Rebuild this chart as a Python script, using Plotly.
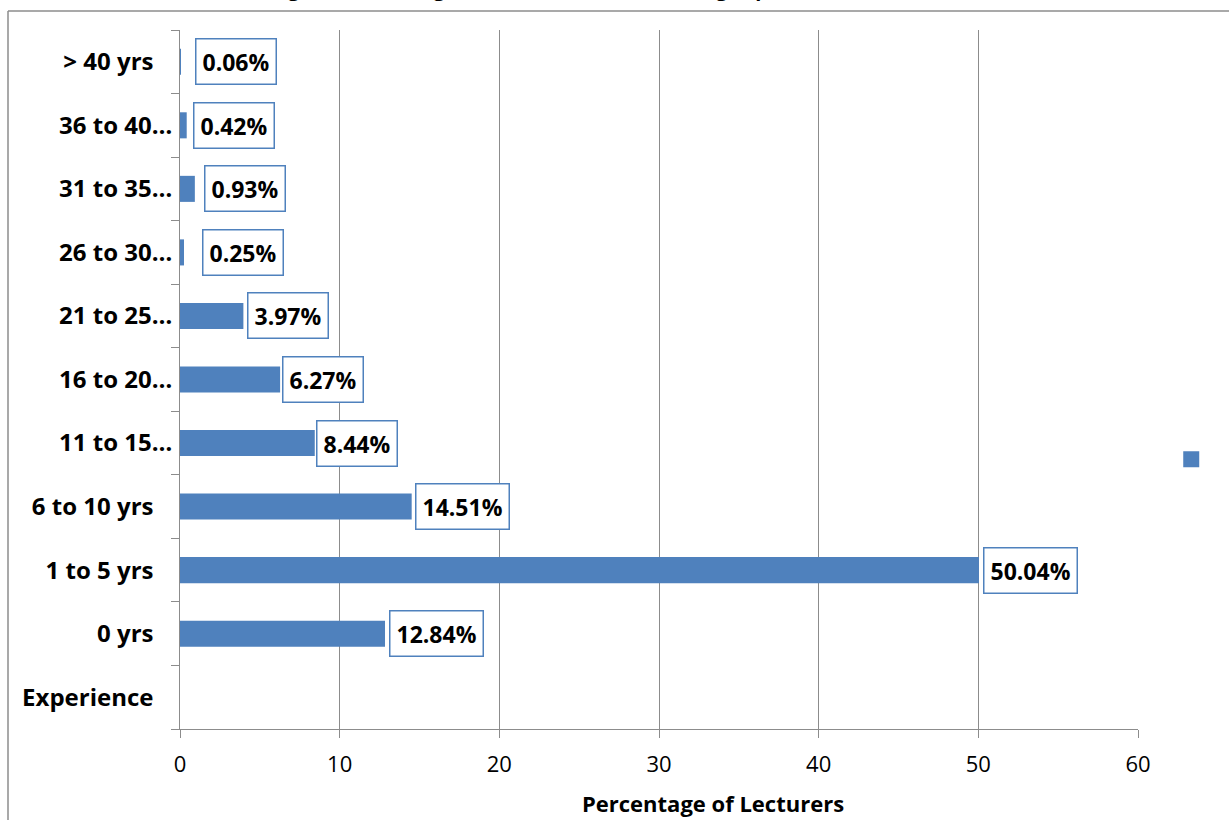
import plotly.graph_objects as go

# ---- data ----
categories = ["Experience", "0 yrs", "1 to 5 yrs", "6 to 10 yrs", "11 to 15…", "16 to 20…",
              "21 to 25…", "26 to 30…", "31 to 35…", "36 to 40…", "> 40 yrs"]
percent_lecturers = [None, 12.84, 50.04, 14.51, 8.44, 6.27, 3.97, 0.25, 0.93, 0.42, 0.06]
x_ticks = [0, 10, 20, 30, 40, 50, 60]
title_text = "Fig 4.3: Percentage of Lecturers with Teaching Experience (in Years)"
x_title = "Percentage of Lecturers"

# ---- style ----
BAR = "#4f81bd"
GRID = "#8c8c8c"
FONT = "Open Sans"
W, H = 1229, 820
ML, MR, MT, MB = 180, 91, 30, 91
label_nudge = [0, 4, 4, 3, 1, 2, 4, 18, 9, 6, 14]  # px shift of each value box

pw = W - ML - MR
ph = H - MT - MB


def px_x(px):
    return (px - ML) / pw


def px_y(py):
    return (H - MB - py) / ph


fig = go.Figure()
fig.add_trace(go.Bar(
    y=categories, x=percent_lecturers, orientation="h",
    marker=dict(color=BAR, line=dict(width=0)),
    showlegend=False, hoverinfo="x+y",
))
fig.add_trace(go.Scatter(
    x=[None], y=[None], mode="markers", name=" ",
    marker=dict(symbol="square", size=16, color=BAR), showlegend=True,
))

ann = []
for cat, v, dx in zip(categories, percent_lecturers, label_nudge):
    if v is None:
        continue
    ann.append(dict(
        x=v, y=cat, xref="x", yref="y", text=f"<b>{v:.2f}%</b>",
        showarrow=False, xanchor="left", yanchor="middle", xshift=dx,
        font=dict(family=FONT, size=23, color="black"),
        bgcolor="white", bordercolor=BAR, borderwidth=1.5, borderpad=6,
    ))

# title (mostly cut off at top of the picture)
ann.append(dict(
    x=px_x(605), y=px_y(3), xref="paper", yref="paper",
    text=f"<b>{title_text}</b>", showarrow=False, xanchor="center", yanchor="bottom",
    font=dict(family=FONT, size=20, color="black"), borderpad=0,
))
# x axis title
ann.append(dict(
    x=px_x(713), y=px_y(803), xref="paper", yref="paper",
    text=f"<b>{x_title}</b>", showarrow=False, xanchor="center", yanchor="middle",
    font=dict(family=FONT, size=22, color="black"),
))

bx = px_x(8)
by = px_y(11)
shapes = [
    dict(type="line", xref="paper", yref="paper", x0=bx, x1=bx, y0=by, y1=-0.5,
         line=dict(color=GRID, width=1.5)),
    dict(type="line", xref="paper", yref="paper", x0=bx, x1=1.5, y0=by, y1=by,
         line=dict(color=GRID, width=1.5)),
]

pad = "\u00a0\u00a0\u00a0"
ticktext = [f"<b>{c}</b>" if c.endswith("…") else f"<b>{c}{pad}</b>" for c in categories]

fig.update_layout(
    width=W, height=H,
    margin=dict(l=ML, r=MR, t=MT, b=MB, pad=0),
    paper_bgcolor="white", plot_bgcolor="white",
    bargap=0.59,
    font=dict(family=FONT, color="black"),
    annotations=ann, shapes=shapes,
    legend=dict(xref="container", yref="container", x=0.953, y=0.44,
                xanchor="left", yanchor="middle", font=dict(size=12),
                bgcolor="rgba(0,0,0,0)"),
    xaxis=dict(
        range=[0, 60], tickvals=x_ticks, ticks="outside", ticklen=8, tickcolor=GRID,
        showgrid=True, gridcolor=GRID, gridwidth=1, zeroline=False,
        showline=True, linecolor=GRID, linewidth=1,
        tickfont=dict(size=22, family=FONT), ticklabelstandoff=8,
    ),
    yaxis=dict(
        type="category", categoryorder="array", categoryarray=categories,
        range=[-0.5, len(categories) - 0.5],
        ticks="outside", tickson="boundaries", ticklen=8, tickcolor=GRID,
        showgrid=False, showline=True, linecolor=GRID, linewidth=1,
        tickfont=dict(size=24, family=FONT), ticklabelstandoff=2,
        tickvals=categories, ticktext=ticktext,
    ),
)

fig.write_html("out.html")
